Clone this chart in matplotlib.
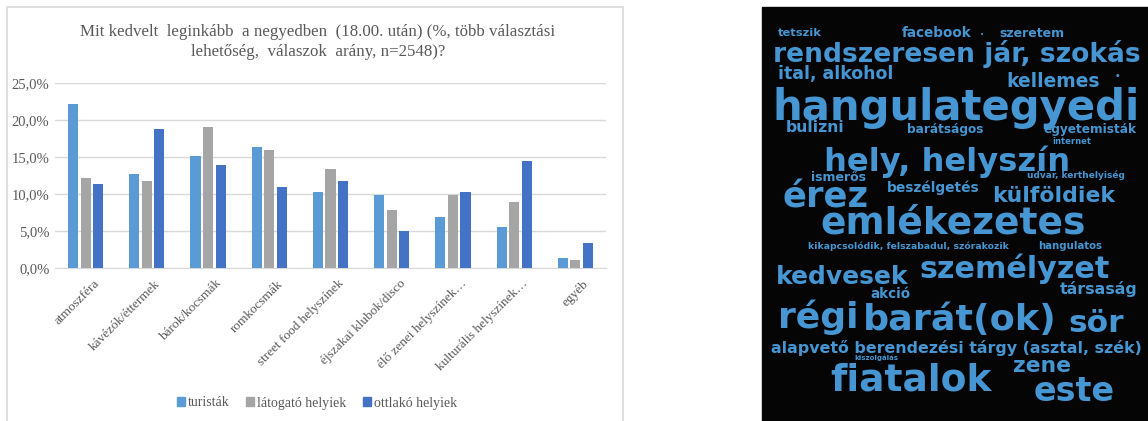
import matplotlib
matplotlib.use("Agg")
import numpy as np
import matplotlib.pyplot as plt
from matplotlib.lines import Line2D
from matplotlib.patches import Patch

# bar chart data (%)
categories = ["atmoszféra", "kávézók/éttermek", "bárok/kocsmák", "romkocsmák",
              "street food helyszínek", "éjszakai klubok/disco",
              "élő zenei helyszínek…", "kulturális helyszínek…", "egyéb"]
turistak = [22.1, 12.7, 15.2, 16.3, 10.3, 9.8, 6.9, 5.6, 1.4]
latogato = [12.2, 11.7, 19.0, 15.9, 13.4, 7.8, 9.8, 8.9, 1.1]
ottlako = [11.4, 18.8, 13.9, 10.9, 11.7, 5.0, 10.3, 14.5, 3.4]
series_names = ["turisták", "látogató helyiek", "ottlakó helyiek"]
series_colors = ["#5B9BD5", "#A5A5A5", "#4472C4"]
yticks = [0, 5, 10, 15, 20, 25]

title = ("Mit kedvelt  leginkább  a negyedben  (18.00. után) (%, több választási\n"
         "lehetőség,  válaszok  arány, n=2548)?")

# word cloud: text, left x, centre y, width, height (pixels)
words = [
    ("tetszik", 773, 30, 54, 11),
    ("facebook", 900, 29, 73, 13),
    ("•", 978, 32, 6, 6),
    ("szeretem", 990, 29, 83, 12),
    ("rendszeresen jár, szokás", 773, 45, 367, 27),
    ("ital, alkohol", 778, 68, 115, 18),
    ("kellemes", 1007, 75, 93, 19),
    ("•", 1114, 74, 8, 8),
    ("hangulategyedi", 773, 94, 367, 42),
    ("bulizni", 777, 123, 76, 15),
    ("barátságos", 903, 125, 84, 12),
    ("egyetemisták", 1037, 125, 105, 12),
    ("internet", 1047, 139, 50, 8),
    ("hely, helyszín", 797, 151, 300, 32),
    ("ismerős", 807, 173, 63, 12),
    ("udvar, kerthelyiség", 1027, 172, 98, 9),
    ("beszélgetés", 887, 183, 93, 14),
    ("külföldiek", 987, 189, 133, 21),
    ("érez", 772, 187, 108, 34),
    ("emlékezetes", 793, 212, 320, 36),
    ("kikapcsolódik, felszabadul, szórakozik", 808, 243, 200, 10),
    ("hangulatos", 1038, 243, 64, 11),
    ("személyzet", 917, 259, 196, 30),
    ("kedvesek", 772, 269, 141, 24),
    ("társaság", 1060, 284, 78, 17),
    ("akció", 870, 290, 40, 13),
    ("régi", 773, 306, 90, 36),
    ("barát(ok)", 863, 307, 194, 42),
    ("sör", 1060, 314, 73, 30),
    ("alapvető berendezési tárgy (asztal, szék)", 770, 342, 372, 20),
    ("kiszolgálás", 853, 356, 47, 7),
    ("fiatalok", 825, 369, 172, 36),
    ("zene", 1010, 359, 65, 21),
    ("este", 1018, 381, 112, 32),
]

W, H = 1148, 421
fig = plt.figure(figsize=(W / 100, H / 100), dpi=100)

# frame of the left panel
grey_txt = "#595959"
frame_x = [7, 7, 623, 623]
frame_y = [421, 7, 7, 421]
fig.add_artist(Line2D([v / W for v in frame_x], [1 - v / H for v in frame_y],
                      color="#D9D9D9", lw=1.2))

# bar chart
ax = fig.add_axes([55 / W, 1 - 268 / H, 551 / W, 185 / H])
x = np.arange(len(categories))
bw, step = 0.165, 0.205
for i, (vals, c) in enumerate(zip([turistak, latogato, ottlako], series_colors)):
    ax.bar(x + (i - 1) * step, vals, width=bw, color=c, zorder=3)
ax.set_xlim(-0.5, len(categories) - 0.5)
ax.set_ylim(0, 25)
ax.set_yticks(yticks)
ax.set_yticklabels([f"{v:.1f}%".replace(".", ",") for v in yticks],
                   family="Liberation Serif", fontsize=10.5, color=grey_txt)
ax.yaxis.grid(True, color="#D9D9D9", lw=1, zorder=0)
ax.tick_params(length=0)
ax.tick_params(axis="y", pad=4)
for s in ["top", "right", "left"]:
    ax.spines[s].set_visible(False)
ax.spines["bottom"].set_color("#D9D9D9")
ax.set_xticks(x + 0.12)
ax.set_xticklabels(categories, rotation=45, ha="right", rotation_mode="anchor",
                   family="Liberation Serif", fontsize=9.5, color=grey_txt)
ax.tick_params(axis="x", pad=7)

fig.text(318 / W, 1 - 42 / H, title, ha="center", va="center",
         family="Liberation Serif", fontsize=12.2, color=grey_txt,
         linespacing=1.35)

handles = [Patch(color=c) for c in series_colors]
leg = fig.legend(handles, series_names, loc="center",
                 bbox_to_anchor=(317 / W, 1 - 403 / H), ncol=3, frameon=False,
                 handlelength=0.6, handleheight=0.6, handletextpad=0.2,
                 columnspacing=1.2,
                 prop={"family": "Liberation Serif", "size": 10})
for t in leg.get_texts():
    t.set_color(grey_txt)

# word cloud panel
wc = fig.add_axes([0, 0, 1, 1], zorder=5)
wc.set_xlim(0, W)
wc.set_ylim(H, 0)
wc.axis("off")
wc.add_patch(plt.Rectangle((762, 7), 386, 420, color="#050505", zorder=0))

renderer = fig.canvas.get_renderer()
for text, x0, yc, width, height in words:
    t = wc.text(x0, yc, text, ha="left", va="center_baseline", fontsize=10,
                family="DejaVu Sans", weight="bold", color="#4596D2", zorder=2)
    bb = t.get_window_extent(renderer)
    size = min(10 * width / bb.width, 10 * height * 1.05 / bb.height)
    t.set_fontsize(size)
    # keep the word horizontally centred on its slot
    w_new = t.get_window_extent(renderer).width
    t.set_x(x0 + (width - w_new) / 2)
    t.set_y(yc + height * 0.22)

fig.savefig("out.png", dpi=100)
